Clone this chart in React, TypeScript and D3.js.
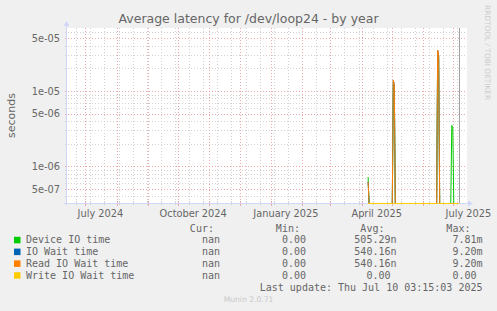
import React from "react";
import * as d3 from "d3";

// ---------- data ----------
const title = "Average latency for /dev/loop24 - by year";
const yLabel = "seconds";
const watermark = "RRDTOOL / TOBI OETIKER";
const footer = "Munin 2.0.71";
const lastUpdate = "Last update: Thu Jul 10 03:15:03 2025";

const timeDomain = ["2024-06-12T20:24:00Z", "2025-07-14T14:24:00Z"];
const valueDomain = [3.26e-7, 6.88e-5];
const yTickValues = [5e-7, 1e-6, 5e-6, 1e-5, 5e-5];
const yTickLabels = ["5e-07", "1e-06", "5e-06", "1e-05", "5e-05"];
const xLabelMonths = ["2024-07-01", "2024-10-01", "2025-01-01", "2025-04-01", "2025-07-01"];
const minorGridStart = "2024-06-22T00:00:00Z";
const minorGridStepDays = 14;
const markerDates = ["2025-07-06T12:00:00Z"];

const sampleDates = [
  "2025-04-07", "2025-04-08", "2025-05-01", "2025-05-02", "2025-05-03", "2025-05-04",
  "2025-06-14", "2025-06-15", "2025-06-16", "2025-06-17", "2025-06-28", "2025-06-29",
  "2025-06-30", "2025-07-01", "2025-07-06",
];
const deviceIO = [7.2e-7, 0, 0, 1.25e-5, 1.1e-5, 0, 0, 3.2e-5, 2.8e-5, 0, 0, 3.5e-6, 3.3e-6, 0, 0];
const ioWait = [6.25e-7, 0, 0, 1.4e-5, 1.2e-5, 0, 0, 3.5e-5, 3.0e-5, 0, 0, 0, 0, 0, 0];
const readIOWait = [6.25e-7, 0, 0, 1.4e-5, 1.2e-5, 0, 0, 3.5e-5, 3.0e-5, 0, 0, 0, 0, 0, 0];
const writeIOWait = [0, 0, 0, 0, 0, 0, 0, 0, 0, 0, 0, 0, 0, 0, 0];

const seriesNames = ["Device IO time", "IO Wait time", "Read IO Wait time", "Write IO Wait time"];
const seriesColors = ["#00cc00", "#0066b3", "#ff8000", "#ffcc00"];
const curValues = ["nan", "nan", "nan", "nan"];
const minValues = ["0.00", "0.00", "0.00", "0.00"];
const avgValues = ["505.29n", "540.16n", "540.16n", "0.00"];
const maxValues = ["7.81m", "9.20m", "9.20m", "0.00"];

// ---------- layout ----------
const W = 497;
const H = 311;
const L = 67, R = 467, T = 28, B = 203;
const SANS = "'DejaVu Sans', sans-serif";
const MONO = "'DejaVu Sans Mono', monospace";
const FONT = "#666666";
const AXIS = "#CFD6F8";
const GRID = "#d2d2d2";
const MGRID = "#eaa8a8";
const CH = 6.02;

export default function App() {
  const x = d3
    .scaleUtc()
    .domain(timeDomain.map((d) => new Date(d)))
    .range([L, R]);
  const y = d3.scaleLog().domain(valueDomain).range([B, T]);

  const snap = (v: number) => Math.round(v) + 0.5;

  // horizontal grid
  const allY = y.ticks();
  const isMajor = (v: number) => yTickValues.some((t) => Math.abs(t - v) / t < 1e-6);
  const minorY = allY.filter((v) => !isMajor(v));

  // vertical grid
  const [t0, t1] = x.domain();
  const majorX = d3.utcMonth.range(t0, t1);
  const minorX: Date[] = [];
  const stepMs = minorGridStepDays * 86400000;
  for (let t = new Date(minorGridStart).getTime(); t < t1.getTime(); t += stepMs) {
    if (t > t0.getTime()) minorX.push(new Date(t));
  }
  const fmt = d3.utcFormat("%B %Y");

  const series = [deviceIO, ioWait, readIOWait, writeIOWait];
  const dates = sampleDates.map((d) => new Date(d + "T12:00:00Z"));
  const line = d3
    .line<[Date, number]>()
    .x((d) => x(d[0]))
    .y((d) => (d[1] > 0 ? y(d[1]) : B + 0.5));

  const colEnds = [226, 312, 396.5, 482.5];
  const cols = [curValues, minValues, avgValues, maxValues];
  const headers = ["Cur:", "Min:", "Avg:", "Max:"];
  const rowBase = 243.3;
  const rowStep = 11.8;
  const hasSuffix = (v: string) => /[a-zA-Zµ]$/.test(v) && v !== "nan";

  return (
    <svg
      width={W}
      height={H}
      style={{ position: "fixed", left: 0, top: 0 }}
      xmlns="http://www.w3.org/2000/svg"
    >
      <defs>
        <clipPath id="plotclip">
          <rect x={L} y={T - 1} width={R - L} height={B - T + 2} />
        </clipPath>
      </defs>
      <rect x={0} y={0} width={W} height={H} fill="#f0f0f0" />
      <rect x={L} y={T} width={R - L} height={B - T} fill="#ffffff" />

      {/* minor horizontal grid */}
      {minorY.map((v, i) => (
        <line key={"mh" + i} x1={L - 2} x2={R} y1={snap(y(v))} y2={snap(y(v))}
          stroke={GRID} strokeWidth={1} strokeDasharray="1,2" />
      ))}
      {/* minor vertical grid */}
      {minorX.map((d, i) => (
        <g key={"mv" + i}>
          <line x1={snap(x(d))} x2={snap(x(d))} y1={T} y2={B} stroke={GRID} strokeWidth={1} strokeDasharray="1,2" />
          <line x1={snap(x(d))} x2={snap(x(d))} y1={B - 2} y2={B + 2} stroke={GRID} strokeWidth={1} />
        </g>
      ))}
      {/* major horizontal grid */}
      {yTickValues.map((v, i) => (
        <g key={"Mh" + i}>
          <line x1={L - 2} x2={R} y1={snap(y(v))} y2={snap(y(v))}
            stroke={MGRID} strokeWidth={1} strokeDasharray="1,2" />
        </g>
      ))}
      {/* major vertical grid */}
      {majorX.map((d, i) => (
        <g key={"Mv" + i}>
          <line x1={snap(x(d))} x2={snap(x(d))} y1={T} y2={B} stroke={MGRID} strokeWidth={1} strokeDasharray="1,2" />
          <line x1={snap(x(d))} x2={snap(x(d))} y1={B - 2} y2={B + 3} stroke={MGRID} strokeWidth={1} />
        </g>
      ))}

      {/* axes */}
      <line x1={L - 0.5} x2={L - 0.5} y1={T - 4} y2={B + 2} stroke={AXIS} strokeWidth={1} />
      <path d={`M${L - 3.5},${T - 2} L${L - 0.5},${T - 7} L${L + 2.5},${T - 2} Z`} fill={AXIS} />
      <line x1={L - 3} x2={R + 3} y1={B + 0.5} y2={B + 0.5} stroke={AXIS} strokeWidth={1} />
      <path d={`M${R + 1},${B - 2.5} L${R + 6},${B + 0.5} L${R + 1},${B + 3.5} Z`} fill={AXIS} />

      {/* series */}
      <g clipPath="url(#plotclip)">
        {series.map((vals, si) => (
          <path key={"s" + si}
            d={line(dates.map((d, i) => [d, vals[i]] as [Date, number])) || ""}
            fill="none" stroke={seriesColors[si]} strokeWidth={1} />
        ))}
        {markerDates.map((d, i) => (
          <line key={"vr" + i} x1={snap(x(new Date(d)))} x2={snap(x(new Date(d)))} y1={T} y2={B}
            stroke="#a0a0a0" strokeWidth={1} />
        ))}
      </g>

      {/* y tick labels */}
      {yTickValues.map((v, i) => (
        <text key={"yl" + i} x={60} y={y(v) + 3.6} textAnchor="end" fontFamily={SANS}
          fontSize={9.8} fill={FONT}>{yTickLabels[i]}</text>
      ))}
      {/* x labels, centered mid-month */}
      {xLabelMonths.map((m, i) => {
        const d0 = new Date(m + "T00:00:00Z");
        const mid = new Date(d0.getTime() + 15 * 86400000);
        return (
          <text key={"xl" + i} x={x(mid)} y={216.5} textAnchor="middle" fontFamily={SANS}
            fontSize={9.8} fill={FONT}>{fmt(d0)}</text>
        );
      })}

      {/* title */}
      <text x={W / 2} y={23} textAnchor="middle" fontFamily={SANS} fontSize={12.5} fill={FONT}>{title}</text>
      {/* y axis label */}
      <text transform={`translate(15, ${(T + B) / 2}) rotate(-90)`} textAnchor="middle"
        fontFamily={SANS} fontSize={11} fill={FONT}>{yLabel}</text>
      {/* watermark */}
      <text transform={`translate(485, 5) rotate(90)`} textAnchor="start" fontFamily={SANS}
        fontSize={7.4} fill="#cccccc">{watermark}</text>

      {/* legend */}
      {headers.map((h, i) => (
        <text key={"h" + i} x={colEnds[i] - 2 * CH} y={rowBase - rowStep} textAnchor="end"
          fontFamily={MONO} fontSize={10} fill={FONT}>{h}</text>
      ))}
      {seriesNames.map((n, si) => {
        const by = rowBase + si * rowStep;
        return (
          <g key={"lg" + si}>
            <rect x={14} y={by - 6.5} width={6.5} height={6.5} fill={seriesColors[si]} />
            <text x={26} y={by} fontFamily={MONO} fontSize={10} fill={FONT}>{n}</text>
            {cols.map((c, ci) => (
              <text key={"v" + ci} x={colEnds[ci] - (hasSuffix(c[si]) ? 0 : CH)} y={by}
                textAnchor="end" fontFamily={MONO} fontSize={10} fill={FONT}>{c[si]}</text>
            ))}
          </g>
        );
      })}
      <text x={482.5} y={rowBase + 4 * rowStep} textAnchor="end" fontFamily={MONO} fontSize={10}
        fill={FONT}>{lastUpdate}</text>
      <text x={W / 2} y={302} textAnchor="middle" fontFamily={SANS} fontSize={7.6} fill="#c8c8c8">{footer}</text>
    </svg>
  );
}
